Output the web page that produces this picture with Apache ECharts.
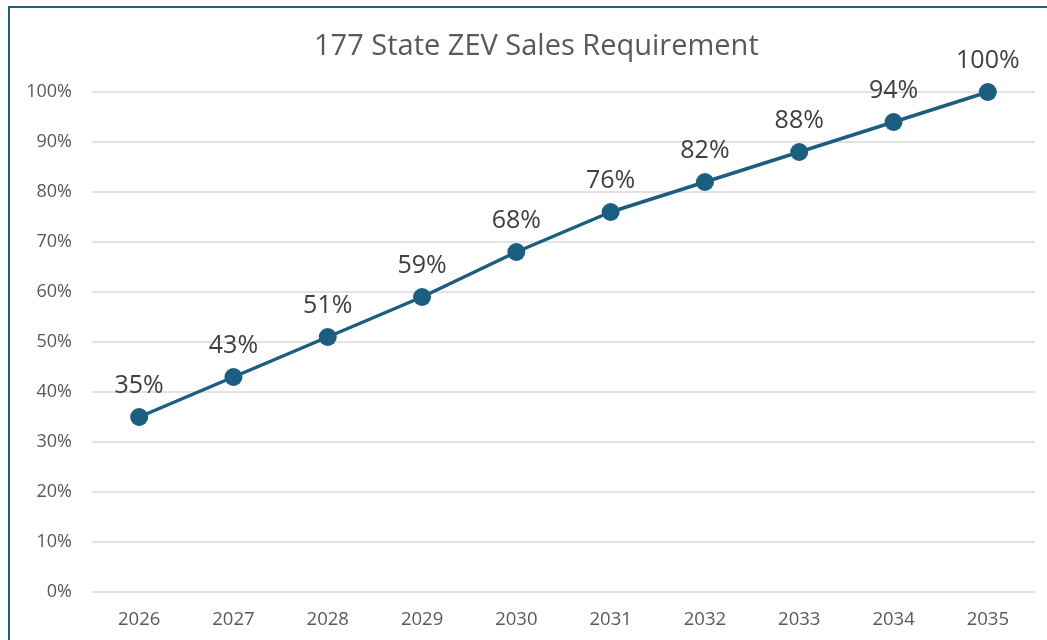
<!DOCTYPE html>
<html><head><meta charset="utf-8">
<script src="https://cdn.jsdelivr.net/npm/echarts@6/dist/echarts.min.js"></script>
<style>html,body{margin:0;padding:0;background:#fff}#c{width:1047px;height:640px}</style>
</head><body><div id="c"></div>
<script>
const years = ['2026','2027','2028','2029','2030','2031','2032','2033','2034','2035'];
const zevShare = [35,43,51,59,68,76,82,88,94,100];
const FONT = '"Open Sans", Roboto, sans-serif';
const chart = echarts.init(document.getElementById('c'), null, {renderer:'canvas'});
chart.setOption({
  animation:false,
  backgroundColor:'#fff',
  title:{text:'177 State ZEV Sales Requirement',left:309,top:27,
    textStyle:{fontFamily:FONT,fontSize:29,fontWeight:'normal',color:'#595959'}},
  graphic:[{type:'rect',shape:{x:9,y:7,width:1100,height:700},style:{fill:'none',stroke:'#1f5f80',lineWidth:2},silent:true}],
  grid:{left:92,right:12,top:92,bottom:48},
  xAxis:{type:'category',data:years,boundaryGap:true,
    axisLine:{show:false},axisTick:{show:false},
    axisLabel:{color:'#595959',fontSize:18.5,margin:18,fontFamily:FONT}},
  yAxis:{type:'value',min:0,max:100,interval:10,
    axisLabel:{formatter:'{value}%',color:'#595959',fontSize:18,margin:20,fontFamily:FONT}},
  series:[{type:'line',data:zevShare,symbol:'circle',symbolSize:18,
    lineStyle:{color:'#1b5e80',width:3.5},itemStyle:{color:'#1b5e80'},
    label:{show:true,position:'top',distance:10,formatter:'{c}%',fontSize:25,color:'#404040',fontFamily:FONT}}]
});
chart.setOption({yAxis:{splitLine:{lineStyle:{color:'#d9d9d9',width:1.5}},axisLine:{show:false},axisTick:{show:false}}});
</script></body></html>
